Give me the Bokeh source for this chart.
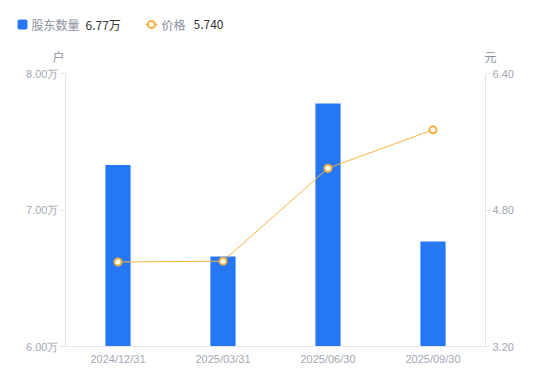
from bokeh.plotting import figure
from bokeh.layouts import column
from bokeh.models import (Range1d, LinearAxis, FixedTicker, PrintfTickFormatter,
                          ColumnDataSource, FactorRange)
from bokeh.core.properties import value
from bokeh.embed import file_html
from bokeh.resources import INLINE

dates = ["2024/12/31", "2025/03/31", "2025/06/30", "2025/09/30"]
holders_wan = [7.33, 6.66, 7.78, 6.77]   # 股东数量 (万户)
price = [4.19, 4.20, 5.29, 5.74]          # 价格 (元)
left_ticks = [6.0, 7.0, 8.0]
right_ticks = [3.2, 4.8, 6.4]
series_names = ["股东数量", "价格"]
unit_titles = ["户", "元"]

BAR = "#2677f6"
LINE = "#f7b13f"
AXIS = "#e3e5ea"
TICK_TXT = "#a3a7b5"
NAME_TXT = "#8c909c"
VAL_TXT = "#333333"
CJK = "Noto Sans CJK SC"

HEAD_H = 66

# ---------------- header (legend + unit titles), pixel coordinates ----------------
top = figure(width=550, height=HEAD_H, x_range=Range1d(0, 550), y_range=Range1d(HEAD_H, 0),
             output_backend="svg", toolbar_location=None, x_axis_type=None, y_axis_type=None,
             min_border=0)
top.frame_align = False
top.outline_line_color = None
top.grid.visible = False

top.quad(left=17, right=27, top=19, bottom=29, fill_color=BAR, line_color=None,
         border_radius=2)
top.line(x=[145, 157], y=[24, 24], color=LINE, line_width=1.5)
top.scatter(x=[151], y=[24], size=7, fill_color="white", line_color=LINE, line_width=2)

val_texts = [f"{holders_wan[-1]:.2f}万", f"{price[-1]:.3f}"]
top.text(x=[31, 161], y=[24, 24], text=series_names, text_font=value(CJK),
         text_font_size="12px", text_color=NAME_TXT, text_baseline="middle")
top.text(x=[85, 193], y=[24, 24], text=val_texts, text_font=value(CJK),
         text_font_size="12px", text_color=VAL_TXT, text_baseline="middle")
top.text(x=[58, 490], y=[56, 56], text=unit_titles, text_font=value(CJK),
         text_font_size="12px", text_color=NAME_TXT, text_baseline="middle",
         text_align="center")

# ---------------- main chart ----------------
src = ColumnDataSource(dict(d=dates, h=holders_wan, p=price))

p = figure(width=550, height=381 - HEAD_H, x_range=FactorRange(*dates),
           y_range=Range1d(6.0, 8.0), output_backend="svg", toolbar_location=None,
           min_border_left=65, min_border_right=65, min_border_top=73 - HEAD_H,
           min_border_bottom=35)
p.frame_align = False
p.outline_line_color = None
p.xgrid.visible = False
p.ygrid.visible = False
p.extra_y_ranges = {"price": Range1d(3.2, 6.4)}

p.vbar(x="d", top="h", bottom=6.0, width=0.24, source=src, color=BAR, line_color=None)
p.line(x="d", y="p", source=src, y_range_name="price", color=LINE, line_width=1)
p.scatter(x="d", y="p", source=src, y_range_name="price", size=7,
          fill_color="white", line_color=LINE, line_width=2)

def style_y(ax):
    ax.minor_tick_line_color = None
    ax.major_tick_in = 0
    ax.major_tick_out = 5
    ax.major_tick_line_color = AXIS
    ax.axis_line_color = AXIS
    ax.major_label_text_color = TICK_TXT
    ax.major_label_text_font_size = "11px"
    ax.major_label_text_font = "Liberation Sans"
    ax.major_label_standoff = 2

la = p.yaxis[0]
la.ticker = FixedTicker(ticks=left_ticks)
la.formatter = PrintfTickFormatter(format="%.2f万")
style_y(la)

ra = LinearAxis(y_range_name="price", ticker=FixedTicker(ticks=right_ticks),
                formatter=PrintfTickFormatter(format="%.2f"))
style_y(ra)
p.add_layout(ra, "right")

xa = p.xaxis[0]
xa.major_tick_line_color = None
xa.major_tick_out = 0
xa.minor_tick_line_color = None
xa.axis_line_color = AXIS
xa.major_label_text_color = TICK_TXT
xa.major_label_text_font_size = "11px"
xa.major_label_text_font = "Liberation Sans"
xa.major_label_standoff = 6

layout = column(top, p, spacing=0)
open("out.html", "w").write(file_html(layout, INLINE))
